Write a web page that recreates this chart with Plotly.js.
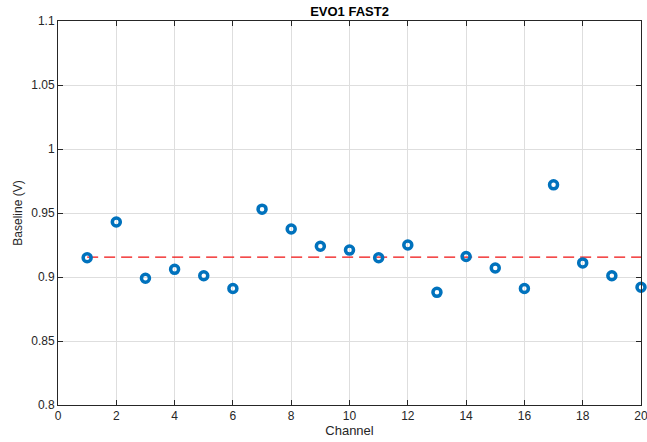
<!DOCTYPE html>
<html>
<head>
<meta charset="utf-8">
<script src="https://cdn.plot.ly/plotly-3.0.1.min.js"></script>
<style>html,body{margin:0;padding:0;background:#fff;}#chart{width:647px;height:442px;}</style>
</head>
<body>
<div id="chart"></div>
<script>
const channels = [1,2,3,4,5,6,7,8,9,10,11,12,13,14,15,16,17,18,19,20];
const baseline = [0.915,0.943,0.899,0.906,0.901,0.891,0.953,0.9375,0.924,0.921,0.915,0.925,0.888,0.916,0.907,0.891,0.972,0.911,0.901,0.892];
const meanBaseline = 0.9155;
const meanX = [1, 20];
const xTicks = [0,2,4,6,8,10,12,14,16,18,20];
const yTicks = [0.8,0.85,0.9,0.95,1,1.05,1.1];
const yTickText = ['0.8','0.85','0.9','0.95','1','1.05','1.1'];

const font = 'Liberation Sans, Arial, Helvetica, sans-serif';
const traces = [
  {
    x: meanX, y: [meanBaseline, meanBaseline], mode: 'lines', type: 'scatter',
    line: {color: '#f01010', width: 1.2, dash: '11px,6px'}, hoverinfo: 'skip', cliponaxis: false
  },
  {
    x: channels, y: baseline, mode: 'markers', type: 'scatter',
    marker: {symbol: 'circle-open', size: 8, color: '#0072BD', line: {width: 3.5, color: '#0072BD'}},
    cliponaxis: false
  }
];
const axisCommon = {
  showline: true, linecolor: '#262626', linewidth: 1, mirror: 'ticks',
  ticks: 'inside', ticklen: 5, tickwidth: 1, tickcolor: '#262626',
  showgrid: true, gridcolor: '#dedede', gridwidth: 1, zeroline: false,
  ticklabeloverflow: 'allow',
  tickfont: {family: font, size: 12, color: '#262626'}
};
const layout = {
  width: 647, height: 442,
  margin: {l: 58, r: 6, t: 21, b: 37},
  paper_bgcolor: '#fff', plot_bgcolor: '#fff',
  showlegend: false,
  title: {text: '<b>EVO1 FAST2</b>', font: {family: font, size: 13, color: '#000'}, x: 0.5, xref: 'paper', xanchor: 'center', y: 1 - 11/442, yref: 'container', yanchor: 'middle'},
  xaxis: Object.assign({}, axisCommon, {
    range: [0, 20], tickvals: xTicks, ticktext: xTicks.map(String),
    title: {text: 'Channel', font: {family: font, size: 13, color: '#262626'}, standoff: 1}
  }),
  yaxis: Object.assign({}, axisCommon, {
    range: [0.8, 1.1], tickvals: yTicks, ticktext: yTickText,
    title: {text: 'Baseline (V)', font: {family: font, size: 12, color: '#262626'}, standoff: 6}
  })
};
Plotly.newPlot('chart', traces, layout, {displayModeBar: false, staticPlot: true});
</script>
</body>
</html>
